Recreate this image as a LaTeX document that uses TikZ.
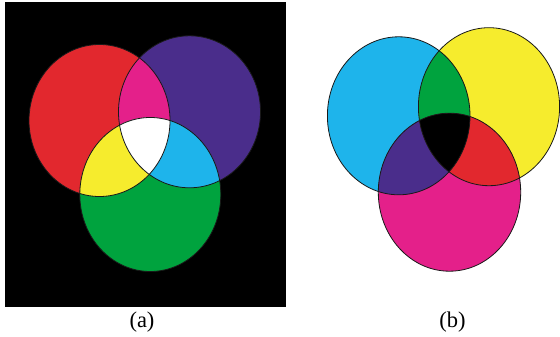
\documentclass[tikz,border=0pt]{standalone}
\usepackage{fontspec}
\setmainfont{Liberation Serif}
\definecolor{cRed}{RGB}{226,40,46}
\definecolor{cPurple}{RGB}{74,45,139}
\definecolor{cGreen}{RGB}{0,163,62}
\definecolor{cMag}{RGB}{228,32,138}
\definecolor{cCyan}{RGB}{30,180,235}
\definecolor{cYellow}{RGB}{246,236,45}
\definecolor{cEdge}{RGB}{25,25,25}
\newcommand\shpRed{(99.5,120.5) ellipse [x radius=70.5, y radius=76]}
\newcommand\shpPur{(189.5,111.8) ellipse [x radius=71, y radius=76]}
\newcommand\shpGrn{(150.3,194.5) ellipse [x radius=70.5, y radius=77]}
\newcommand\shpCya{(398.7,115.8) ellipse [x radius=71.3, y radius=79]}
\newcommand\shpYel{(489,106.7) ellipse [x radius=70.6, y radius=79]}
\newcommand\shpMag{(449.5,192.2) ellipse [x radius=71.2, y radius=79]}
\tikzset{
  edge/.style={draw=cEdge, line width=0.8pt},
  lab/.style={font=\fontsize{22.5}{26}\selectfont, inner sep=0pt, text=black}
}
\begin{document}
\begin{tikzpicture}[x=1pt,y=-1pt]
\useasboundingbox (0,0) rectangle (560,337);
\fill[white] (0,0) rectangle (560,337);
% panel (a)
\fill[black] (5,2) rectangle (286,307);
\fill[cRed] \shpRed;
\fill[cPurple] \shpPur;
\fill[cGreen] \shpGrn;
\begin{scope}\clip \shpRed; \fill[cMag] \shpPur; \fill[cYellow] \shpGrn; \end{scope}
\begin{scope}\clip \shpPur; \fill[cCyan] \shpGrn; \end{scope}
\begin{scope}\clip \shpRed; \clip \shpPur; \fill[white] \shpGrn; \end{scope}
\path[edge] \shpRed;
\path[edge] \shpPur;
\path[edge] \shpGrn;
% panel (b)
\fill[cCyan] \shpCya;
\fill[cYellow] \shpYel;
\fill[cMag] \shpMag;
\begin{scope}\clip \shpCya; \fill[cGreen] \shpYel; \fill[cPurple] \shpMag; \end{scope}
\begin{scope}\clip \shpYel; \fill[cRed] \shpMag; \end{scope}
\begin{scope}\clip \shpCya; \clip \shpYel; \fill[black] \shpMag; \end{scope}
\path[edge] \shpCya;
\path[edge] \shpYel;
\path[edge] \shpMag;
% labels
\node[lab] (la) at (142,322) {(a)};
\node[lab] (lb) at (452.5,322) {(b)};
\end{tikzpicture}
\end{document}
